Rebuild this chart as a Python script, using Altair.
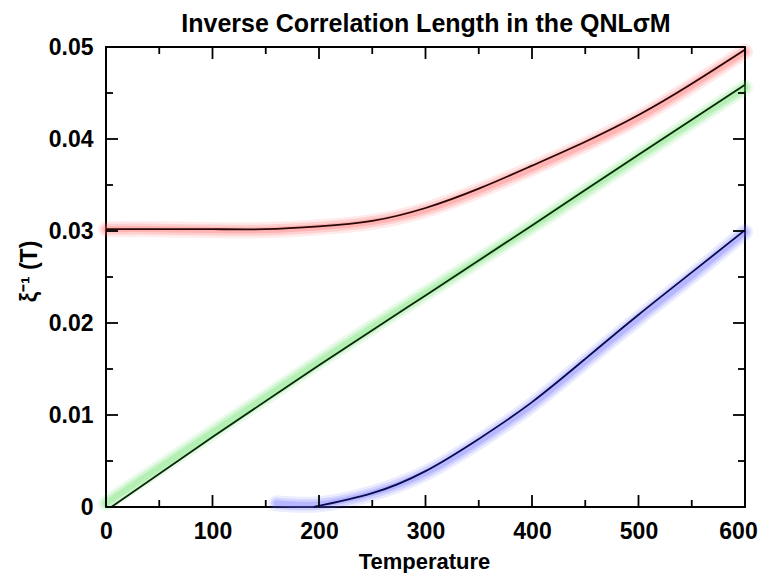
import altair as alt
import pandas as pd

# ---- data ----
title_text = "Inverse Correlation Length in the QNLσM"
x_title = "Temperature"
y_title = "ξ⁻¹ (T)"

red_T = [0, 50, 100, 150, 200, 250, 300, 350, 400, 450, 500, 550, 600]
red_v = [0.0302, 0.0302, 0.0302, 0.0302, 0.0305, 0.0311, 0.0325, 0.0346, 0.0371, 0.0397, 0.0426, 0.0460, 0.0497]
red_band_v = [0.0302, 0.0302, 0.0301, 0.0301, 0.0304, 0.0310, 0.0323, 0.0344, 0.0368, 0.0394, 0.0423, 0.0458, 0.0495]

green_T = [5, 100, 200, 300, 400, 500, 600]
green_v = [0.0, 0.0076, 0.0154, 0.0230, 0.0306, 0.0383, 0.0459]
green_band_T = [0, 100, 200, 300, 400, 500, 600]
green_band_v = [0.0004, 0.0081, 0.0158, 0.0232, 0.0305, 0.0381, 0.0456]

blue_T = [195, 250, 300, 350, 400, 450, 500, 550, 600]
blue_v = [0.0, 0.0015, 0.0039, 0.0074, 0.0114, 0.0161, 0.0209, 0.0255, 0.0301]
blue_band_T = [160, 200, 250, 300, 350, 400, 450, 500, 550, 600]
blue_band_v = [0.0004, 0.0003, 0.0015, 0.0037, 0.0071, 0.0111, 0.0158, 0.0205, 0.0251, 0.0299]

x_major = [0, 100, 200, 300, 400, 500, 600]
x_minor = [50, 150, 250, 350, 450, 550]
y_major = [0.0, 0.01, 0.02, 0.03, 0.04, 0.05]
y_minor = [0.005, 0.015, 0.025, 0.035, 0.045]

W, H = 639, 460
FONT = "Liberation Sans"

xs = alt.Scale(domain=[0, 600], nice=False, zero=False)
ys = alt.Scale(domain=[0, 0.05], nice=False, zero=False)

xaxis = alt.Axis(values=x_major, ticks=False, domain=False, grid=False, labelFont=FONT,
                 labelFontSize=23, labelFontWeight="bold", labelColor="black", labelPadding=13,
                 labelOffset={"condition": {"test": "datum.value == 600", "value": -7}, "value": 0},
                 title=x_title, titleFont=FONT, titleFontSize=22, titleFontWeight="bold",
                 titleColor="black", titleX=318, titleY=61, titleBaseline="alphabetic",
                 labelFlush=False, format="d")
yaxis = alt.Axis(values=y_major, ticks=False, domain=False, grid=False, labelFont=FONT,
                 labelFontSize=23, labelFontWeight="bold", labelColor="black", labelPadding=13,
                 labelExpr="datum.value == 0 ? '0' : format(datum.value, '.2f')",
                 title=y_title, titleFont=FONT, titleFontSize=23, titleFontWeight="bold",
                 titleColor="black", titleX=-77, titleY=224, titleAngle=-90,
                 titleAlign="center", titleBaseline="middle", labelFlush=False)

X = alt.X("T:Q", scale=xs, axis=xaxis)
Y = alt.Y("v:Q", scale=ys, axis=yaxis)

series = [
    (red_T, red_band_v, red_T, red_v, "#ff5a5a", "#2a0606"),
    (green_band_T, green_band_v, green_T, green_v, "#5ee05e", "#062a06"),
    (blue_band_T, blue_band_v, blue_T, blue_v, "#6262ff", "#0a0a50"),
]

layers = []
for bT, bv, lT, lv, bc, lc in series:
    bdf = pd.DataFrame({"T": bT, "v": bv})
    for w, o in [(16, 0.12), (11, 0.18), (6, 0.25)]:
        layers.append(alt.Chart(bdf).mark_line(strokeWidth=w, opacity=o, color=bc,
                                               strokeCap="round", interpolate="natural")
                      .encode(x=X, y=Y))
for bT, bv, lT, lv, bc, lc in series:
    ldf = pd.DataFrame({"T": lT, "v": lv})
    layers.append(alt.Chart(ldf).mark_line(strokeWidth=1.8, color=lc, interpolate="natural")
                  .encode(x=X, y=Y))

MAJ, MIN = 12, 7
for vals, L in [(x_major, MAJ), (x_minor, MIN)]:
    df = pd.DataFrame({"T": vals})
    layers.append(alt.Chart(df).mark_rule(color="black", strokeWidth=1.8)
                  .encode(x=X, y=alt.value(H), y2=alt.value(H - L)))
    layers.append(alt.Chart(df).mark_rule(color="black", strokeWidth=1.8)
                  .encode(x=X, y=alt.value(0), y2=alt.value(L)))
for vals, L in [(y_major, MAJ), (y_minor, MIN)]:
    df = pd.DataFrame({"v": vals})
    layers.append(alt.Chart(df).mark_rule(color="black", strokeWidth=1.8)
                  .encode(y=Y, x=alt.value(0), x2=alt.value(L)))
    layers.append(alt.Chart(df).mark_rule(color="black", strokeWidth=1.8)
                  .encode(y=Y, x=alt.value(W), x2=alt.value(W - L)))

# chart title as a text element above the frame
layers.append(alt.Chart(pd.DataFrame({"t": [title_text]})).mark_text(
    font=FONT, fontSize=25, fontWeight="bold", color="black", align="center",
    baseline="alphabetic").encode(text="t:N", x=alt.value(320), y=alt.value(-15)))

chart = alt.layer(*layers).properties(
    width=W, height=H,
    autosize=alt.AutoSizeParams(type="none"),
    padding={"left": 98, "top": 39, "right": 13, "bottom": 66},
    background="white",
).configure_view(stroke="black", strokeWidth=2)

chart.save("out.html", embed_options={"renderer": "svg", "actions": False})
